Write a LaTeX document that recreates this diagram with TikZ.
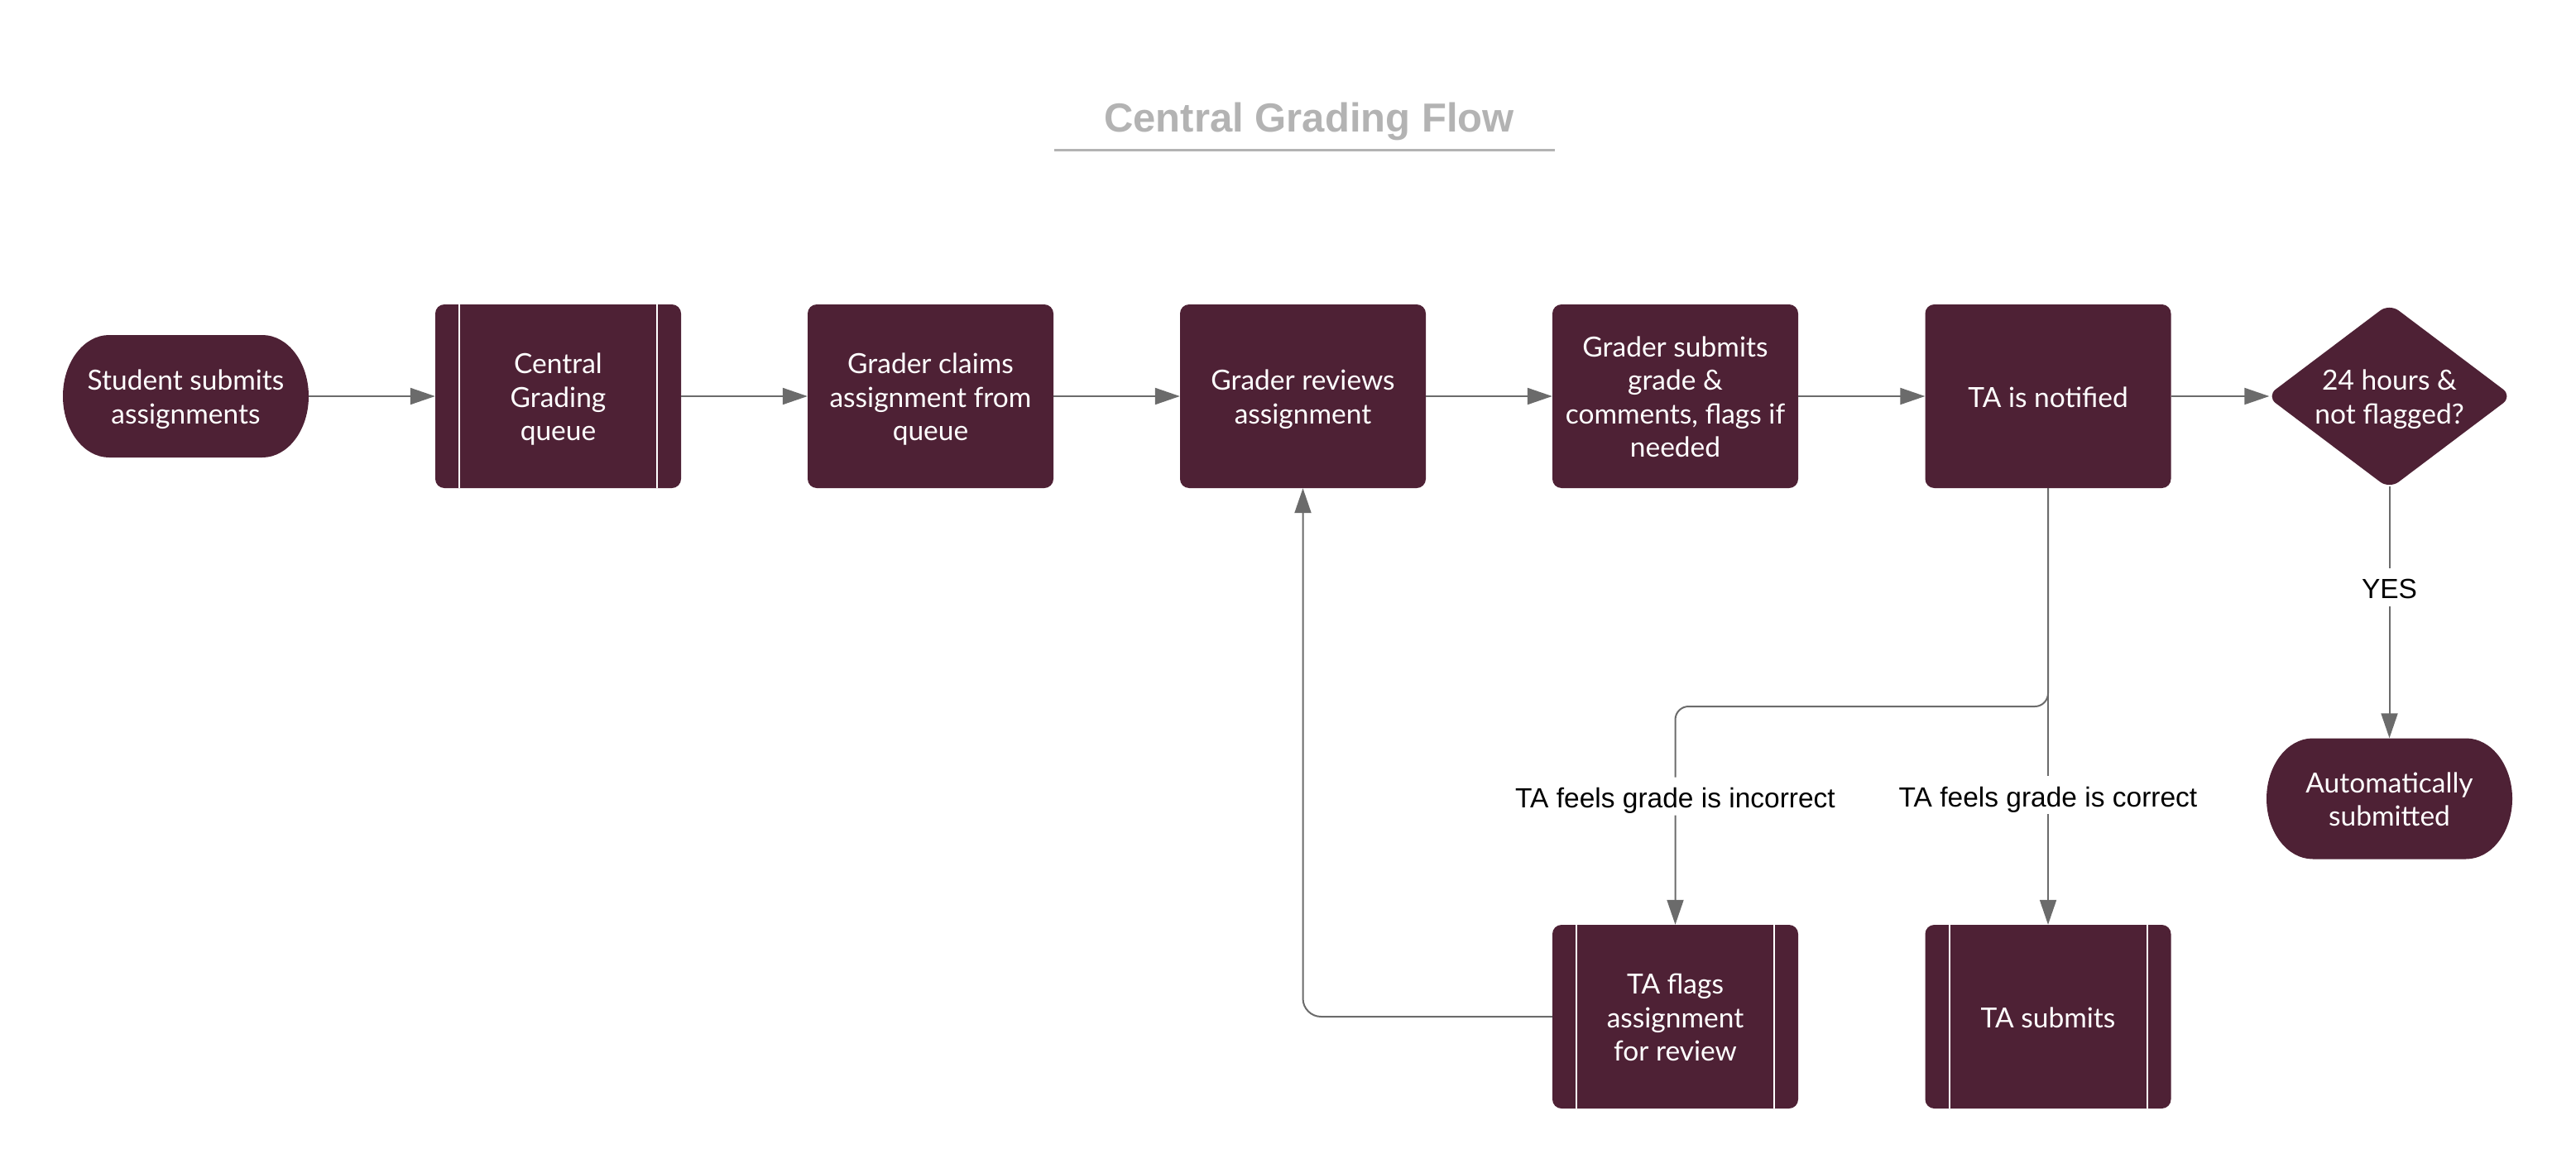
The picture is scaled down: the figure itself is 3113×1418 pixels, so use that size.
\documentclass[tikz,border=0pt]{standalone}
\usepackage{fontspec}
\setmainfont{Liberation Sans}
\newfontfamily\latofont{Lato}
\usetikzlibrary{arrows.meta}
\definecolor{maroon}{HTML}{4E2135}
\definecolor{conn}{HTML}{6B6B6B}
\definecolor{titlegray}{HTML}{B3B3B3}
\newcommand{\gTopStrut}{\rule{0pt}{38pt}}
\newcommand{\gBotStrut}{\rule[-12pt]{0pt}{12pt}}
\begin{document}
\begin{tikzpicture}[x=1pt,y=-1pt,
  boxtext/.style={text=white, align=center, inner sep=0pt,
    font=\latofont\fontsize{33.5}{40.5}\selectfont},
  box/.style={boxtext, rectangle, rounded corners=11pt, fill=maroon,
    minimum width=297pt, minimum height=222pt},
  procbox/.style={box, path picture={
      \draw[white, line width=2pt]
        ([xshift=29pt]path picture bounding box.north west) --
        ([xshift=29pt]path picture bounding box.south west);
      \draw[white, line width=2pt]
        ([xshift=-29pt]path picture bounding box.north east) --
        ([xshift=-29pt]path picture bounding box.south east);}},
  termtext/.style={boxtext, rectangle, minimum width=297pt, minimum height=148pt},
  dectext/.style={boxtext, rectangle, minimum width=290pt, minimum height=217pt},
  conn/.style={draw=conn, line width=2pt,
    -{Triangle[length=30pt, width=20pt]}},
  lbl/.style={fill=white, text=black, inner sep=3pt, text height=34pt, text depth=6pt,
    font=\fontsize{33.5}{40}\selectfont},
  title/.style={text=titlegray, font=\bfseries\fontsize{49}{58}\selectfont, inner sep=0pt}
]
\useasboundingbox (0,0) rectangle (3113,1418);

% title
\node[title, anchor=base] (title) at (1582,159) {Central Grading Flow};
\coordinate (ulL) at (1274,181);
\coordinate (ulR) at (1879,181);
\draw[titlegray, line width=3pt] (ulL) -- (ulR);

% start terminator (stadium)
\fill[maroon] (132,405) -- (317,405)
  arc[start angle=-90, end angle=90, x radius=56, y radius=74]
  -- (132,553)
  arc[start angle=90, end angle=270, x radius=56, y radius=74] -- cycle;
\node[termtext] (s1) at (224.5,479) {\gTopStrut Student submits\\assignments\gBotStrut};

\node[procbox] (queue) at (674.5,479) {\gTopStrut Central\\Grading\\queue\gBotStrut};
\node[box] (claim) at (1124.5,479) {\gTopStrut Grader claims\\assignment from\\queue\gBotStrut};
\node[box] (review) at (1574.5,479) {\gTopStrut Grader reviews\\assignment\gBotStrut};
\node[box] (gsub) at (2024.5,479) {\gTopStrut Grader submits\\grade \&\\comments, flags if\\needed\gBotStrut};
\node[box] (notif) at (2475,479) {\gTopStrut TA is notified\gBotStrut};

% decision
\fill[maroon, rounded corners=14pt] (2739,479) -- (2887.5,367) -- (3036,479) -- (2887.5,591) -- cycle;
\node[dectext] (dec) at (2887.5,479) {\gTopStrut 24 hours \&\\not flagged?\gBotStrut};

% end terminator
\fill[maroon] (2795,892.5) -- (2980,892.5)
  arc[start angle=-90, end angle=90, x radius=56, y radius=73]
  -- (2795,1038.5)
  arc[start angle=90, end angle=270, x radius=56, y radius=73] -- cycle;
\node[termtext, minimum height=146pt] (auto) at (2887.5,965.5) {\gTopStrut Automatically\\submitted\gBotStrut};

\node[procbox] (flag) at (2024.5,1229) {\gTopStrut TA flags\\assignment\\for review\gBotStrut};
\node[procbox] (tsub) at (2475,1229) {\gTopStrut TA submits\gBotStrut};

% connectors
\draw[conn] (s1.east) -- (queue.west);
\draw[conn] (queue.east) -- (claim.west);
\draw[conn] (claim.east) -- (review.west);
\draw[conn] (review.east) -- (gsub.west);
\draw[conn] (gsub.east) -- (notif.west);
\draw[conn] (notif.east) -- (dec.west);
\draw[conn] (dec.south) -- node[lbl, pos=0.40] {YES} (auto.north);

\coordinate (split) at (2475,854);
\draw[conn] (notif.south) -- node[lbl, pos=0.703] {TA feels grade is correct} (tsub.north);
\draw[conn, rounded corners=16pt] (notif.south) -- (split) -| node[lbl, pos=0.706] {TA feels grade is incorrect} (flag.north);
\draw[conn, rounded corners=22pt] (flag.west) -| (review.south);
\end{tikzpicture}
\end{document}
